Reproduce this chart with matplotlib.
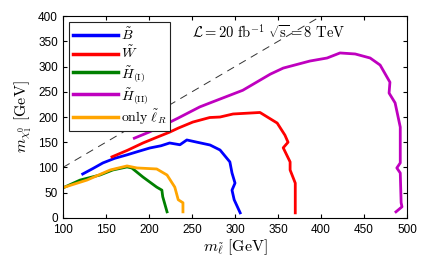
import matplotlib
matplotlib.use('Agg')
import matplotlib.pyplot as plt

plt.rcParams['mathtext.fontset'] = 'cm'
plt.rcParams['font.family'] = ['Liberation Sans', 'DejaVu Sans']

# exclusion contours (m_slepton, m_chi)
bino_x = [123, 135, 146.5, 160, 174.5, 188, 201, 214, 224, 236, 244, 256, 271, 282.6, 294, 296.5, 300, 296.5, 299, 306]
bino_y = [87, 98, 109, 118, 125, 132, 138.6, 143, 148.5, 145, 154.5, 150, 144.5, 134.6, 111, 89, 69, 55, 36, 10]

wino_x = [157, 175, 193, 208, 224, 234, 251, 270.6, 282.6, 297.7, 329, 349, 358, 361.6, 356, 364, 364, 370, 370]
wino_y = [121, 134, 148.5, 159, 170, 178, 190, 199, 200, 206, 209, 188, 164, 150, 139, 111, 95, 69, 10]

hig1_x = [102, 120, 143, 158, 174.5, 180, 193, 209, 215, 216, 221]
hig1_y = [61, 75, 85, 95, 101, 99, 81, 61, 55, 42, 12]

hig2_x = [183, 200, 215, 234, 259, 271, 309, 341, 356, 387, 407, 422, 439.6, 457, 468.6, 480, 479, 486, 492, 492, 488, 492, 493, 494, 487]
hig2_y = [158, 170, 182, 198, 220, 228, 253, 285, 297, 311, 317, 327, 325, 317, 303, 269, 247.5, 228, 180, 109, 99, 89, 30, 22, 12]

slr_x = [102, 128, 155, 174.5, 186, 209, 221, 230, 234, 239.5, 239.5]
slr_y = [61, 75, 95, 103, 99, 97, 85, 61, 36, 30, 12]

fig = plt.figure(figsize=(4.25, 2.69), dpi=100)
ax = fig.add_axes([0.148, 0.19, 0.81, 0.75])

lw = 2.0
ax.plot([100, 400], [100, 400], color='#333333', ls='--', lw=0.7, dashes=(8, 6))
ax.plot(bino_x, bino_y, color='#0000ff', lw=lw, label=r'$\tilde{B}$')
ax.plot(wino_x, wino_y, color='#ff0000', lw=lw, label=r'$\tilde{W}$')
ax.plot(hig1_x, hig1_y, color='#008000', lw=lw, label=r'$\tilde{H}_{(\mathrm{I})}$')
ax.plot(hig2_x, hig2_y, color='#bf00bf', lw=lw, label=r'$\tilde{H}_{(\mathrm{II})}$')
ax.plot(slr_x, slr_y, color='#ffa500', lw=lw, label=r'$\mathrm{only}\ \tilde{\ell}_R$')

ax.set_xlim(100, 500)
ax.set_ylim(0, 400)
ax.set_xticks(range(100, 501, 50))
ax.set_yticks(range(0, 401, 50))
ax.tick_params(direction='in', top=True, right=True, labelsize=8.5, length=3)
ax.tick_params(axis='x', pad=4.5)

ax.set_xlabel(r'$m_{\tilde{\ell}}\ [\mathrm{GeV}]$', fontsize=11.5, labelpad=1)
ax.set_ylabel(r'$m_{\chi_1^0}\ [\mathrm{GeV}]$', fontsize=11.5, labelpad=3)

ax.text(250, 370, r'$\mathcal{L}=20\ \mathrm{fb}^{-1}\ \sqrt{\mathrm{s}}=8\ \mathrm{TeV}$',
        fontsize=10.5, va='center')

leg = ax.legend(loc='upper left', fontsize=10, handlelength=3.2, handletextpad=0.2,
                fancybox=False, edgecolor='#222222', framealpha=1, borderaxespad=0.45,
                labelspacing=0.15, borderpad=0.3)
leg.get_frame().set_linewidth(0.8)
for line in leg.get_lines():
    line.set_linewidth(2.5)

fig.savefig('out.png', dpi=100)
